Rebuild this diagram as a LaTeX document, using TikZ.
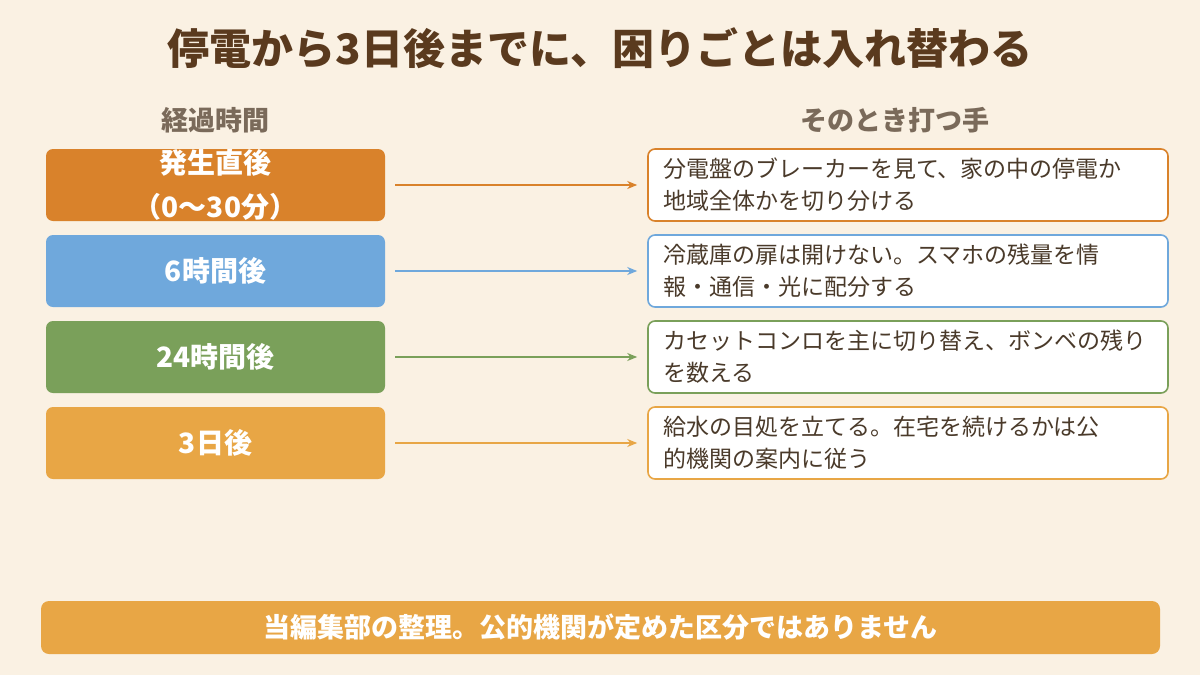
\documentclass[tikz,border=0pt]{standalone}
\usepackage{fontspec}
\setmainfont{Noto Sans CJK JP}
\usetikzlibrary{arrows.meta}
\definecolor{bg}{HTML}{FAF1E3}
\definecolor{ttl}{HTML}{5A3A1E}
\definecolor{hdr}{HTML}{7A6A5A}
\definecolor{txt}{HTML}{4A3A2A}
\definecolor{cA}{HTML}{D9822B}
\definecolor{cB}{HTML}{6FA8DC}
\definecolor{cC}{HTML}{7AA05A}
\definecolor{cD}{HTML}{E8A645}
\begin{document}
\begin{tikzpicture}[x=1pt,y=-1pt,
 lbox/.style={rounded corners=7pt,minimum width=339pt,minimum height=72pt,text=white,font=\fontsize{28}{44}\selectfont\bfseries,align=center,inner sep=0},
 rbox/.style={rounded corners=7pt,draw,line width=1.6pt,fill=white,minimum width=520pt,minimum height=72pt,text=txt,font=\fontsize{23}{32}\selectfont,align=left,text width=490pt,inner sep=0},
 arr/.style={line width=1.6pt,-{Stealth[length=10pt,width=8pt]}}]
\fill[bg] (0,0) rectangle (1200,675);
\node[text=ttl,font=\fontsize{42}{48}\selectfont\bfseries] (title) at (600,48) {停電から3日後までに、困りごとは入れ替わる};
\node[text=hdr,font=\fontsize{27}{30}\selectfont\bfseries] (h1) at (215,120) {経過時間};
\node[text=hdr,font=\fontsize{27}{30}\selectfont\bfseries] (h2) at (895,120) {そのとき打つ手};
\foreach \i/\y/\c/\l/\r in {
 1/185/cA/{発生直後\\（0〜30分）}/{分電盤のブレーカーを見て、家の中の停電か\\地域全体かを切り分ける},
 2/271/cB/{6時間後}/{冷蔵庫の扉は開けない。スマホの残量を情\\報・通信・光に配分する},
 3/357/cC/{24時間後}/{カセットコンロを主に切り替え、ボンベの残り\\を数える},
 4/443/cD/{3日後}/{給水の目処を立てる。在宅を続けるかは公\\的機関の案内に従う}}{
 \node[lbox,fill=\c] (L\i) at (215.5,\y) {\l};
 \node[rbox,draw=\c] (R\i) at (908,\y) {\r};
 \draw[arr,\c] ([xshift=10pt]L\i.east) -- ([xshift=-10pt]R\i.west);
}
\node[fill=cD,rounded corners=8pt,minimum width=1119pt,minimum height=53pt,text=white,font=\fontsize{27}{30}\selectfont\bfseries] (note) at (600.5,627.5) {当編集部の整理。公的機関が定めた区分ではありません};
\end{tikzpicture}
\end{document}
